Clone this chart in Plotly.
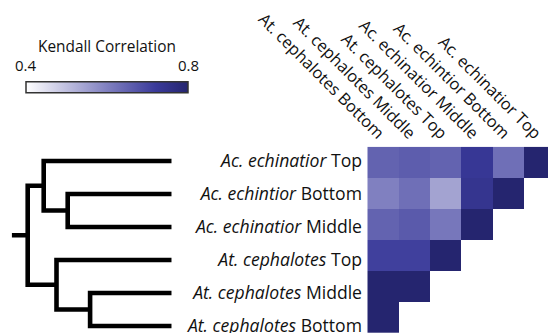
import plotly.graph_objects as go

# ---------------- data ----------------
row_labels = ["<i>Ac. echinatior</i> Top", "<i>Ac. echintior</i> Bottom", "<i>Ac. echinatior</i> Middle",
              "<i>At. cephalotes</i> Top", "<i>At. cephalotes</i> Middle", "<i>At. cephalotes</i> Bottom"]
col_labels = ["At. cephalotes Bottom", "At. cephalotes Middle", "At. cephalotes Top",
              "Ac. echinatior Middle", "Ac. echintior Bottom", "Ac. echinatior Top"]

# Kendall correlation (rows top->bottom, columns left->right), lower triangle only
corr = [
    [0.65, 0.66, 0.65, 0.73, 0.63, 1.00],
    [0.60, 0.63, 0.545, 0.74, 1.00, None],
    [0.65, 0.665, 0.615, 1.00, None, None],
    [0.71, 0.71, 1.00, None, None, None],
    [0.85, 1.00, None, None, None, None],
    [1.00, None, None, None, None, None],
]

# dendrogram merges (child a, child b, height); leaves 0..5 in row order
merge_a = [1, 4, 0, 3, 8]
merge_b = [2, 5, 6, 7, 9]
merge_h = [0.65, 0.51, 0.80, 0.72, 0.90]
root_stub = 1.0

cmin, cmax = 0.4, 0.8
cbar_ticks = [0.4, 0.8]
cbar_title = "Kendall Correlation"
colorscale = [[0.0, "#ffffff"], [0.5, "#8080c0"], [0.8, "#3a3a9a"], [1.0, "#25256f"]]

W, H = 548, 333
FONT = "Open Sans"
TXT = "#111111"

# ---------------- dendrogram path ----------------
n_leaves = len(row_labels)
node_y = {i: float(i) for i in range(n_leaves)}
node_h = {i: 0.0 for i in range(n_leaves)}
dx, dy = [], []
for k, (a, b, h) in enumerate(zip(merge_a, merge_b, merge_h)):
    nid = n_leaves + k
    dx += [node_h[a], h, h, node_h[b], None]
    dy += [node_y[a], node_y[a], node_y[b], node_y[b], None]
    node_y[nid] = (node_y[a] + node_y[b]) / 2
    node_h[nid] = h
root = n_leaves + len(merge_h) - 1
dx += [node_h[root], root_stub]
dy += [node_y[root], node_y[root]]

# colorbar geometry (pixels)
cb_left, cb_right, cb_mid_y = 26, 188, 88.5

fig = go.Figure()

fig.add_trace(go.Heatmap(
    z=corr, x=list(range(len(col_labels))), y=list(range(len(row_labels))),
    zmin=cmin, zmax=cmax, colorscale=colorscale, hoverongaps=False,
    xaxis="x", yaxis="y",
    colorbar=dict(
        orientation="h", x=(cb_left + cb_right) / 2 / W, xanchor="center",
        y=1 - cb_mid_y / H, yanchor="middle",
        lenmode="pixels", len=cb_right - cb_left, thicknessmode="pixels", thickness=11,
        xpad=0, ypad=0, outlinewidth=1.5, outlinecolor="#333333",
        tickvals=cbar_ticks, showticklabels=False, ticks="",
    ),
))

fig.add_trace(go.Scatter(
    x=dx, y=dy, mode="lines", xaxis="x2", yaxis="y2", cliponaxis=False,
    line=dict(color="black", width=4.6, simplify=False), hoverinfo="skip", showlegend=False,
))

# colorbar labels above the bar
annotations = [dict(text=cbar_title, xref="paper", yref="paper",
                    x=(cb_left + cb_right) / 2 / W, y=1 - 46 / H,
                    xanchor="center", yanchor="middle", showarrow=False,
                    font=dict(family=FONT, size=15.4, color=TXT))]
for v in cbar_ticks:
    px = cb_left + (v - cmin) / (cmax - cmin) * (cb_right - cb_left)
    annotations.append(dict(text=f"{v:.1f}", xref="paper", yref="paper",
                            x=px / W, y=1 - 65 / H, xanchor="center", yanchor="middle",
                            showarrow=False, font=dict(family=FONT, size=15, color=TXT)))

fig.update_layout(
    width=W, height=H, margin=dict(l=0, r=0, t=0, b=0, autoexpand=False),
    paper_bgcolor="white", plot_bgcolor="white", showlegend=False,
    font=dict(family=FONT, color=TXT),
    annotations=annotations,
    xaxis=dict(domain=[367.3 / W, 1], range=[-0.5, 5.255], side="top", automargin=False,
               tickvals=list(range(len(col_labels))), ticktext=col_labels, tickangle=45,
               ticks="", showgrid=False, zeroline=False, showline=False,
               ticklabeloverflow="allow",
               tickfont=dict(family=FONT, size=16.4, color=TXT)),
    yaxis=dict(domain=[0, 186.3 / H], range=[5.5, -0.5], showticklabels=False, automargin=False,
               ticks="", showgrid=False, zeroline=False, showline=False),
    xaxis2=dict(domain=[11.7 / W, 171.7 / W], range=[root_stub, 0], visible=False,
                anchor="y2", automargin=False),
    yaxis2=dict(domain=[0, 183 / H], range=[5.212, -0.333], anchor="free", position=362 / W,
                side="left", tickvals=list(range(n_leaves)), ticktext=row_labels, automargin=False,
                ticks="", showgrid=False, zeroline=False, showline=False,
                ticklabeloverflow="allow",
                tickfont=dict(family=FONT, size=17.6, color=TXT)),
)

fig.write_html("out.html", config={"displayModeBar": False},
               post_script="document.body.style.margin='0';")
